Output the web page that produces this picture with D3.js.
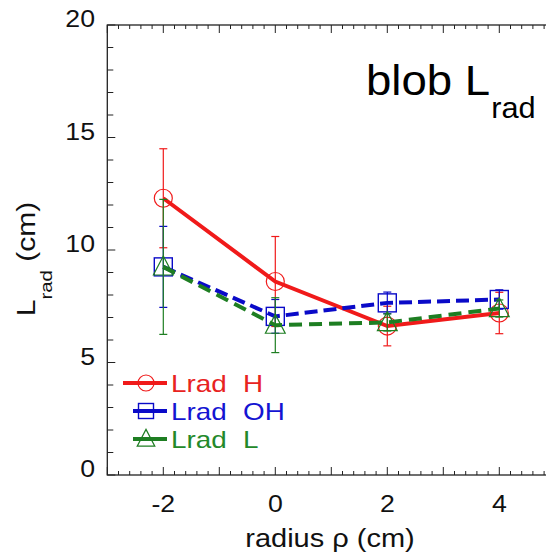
<!DOCTYPE html>
<html>
<head>
<meta charset="utf-8">
<script src="https://cdn.jsdelivr.net/npm/d3@7"></script>
<style>
  body { margin: 0; background: #fff; }
  svg text { font-family: "Liberation Sans", Arial, Helvetica, sans-serif; }
</style>
</head>
<body>
<div class="chart"></div>
<script>
// data
const radius = [-2, 0, 2, 4];
const lrad_H = [12.3, 8.6, 6.62, 7.2];
const err_H = [2.2, 2.0, 0.88, 0.92];
const lrad_OH = [9.25, 7.05, 7.65, 7.8];
const err_OH = [1.8, 0.75, 0.48, 0.43];
const lrad_L = [9.25, 6.66, 6.78, 7.4];
const err_L = [3.0, 1.22, 0.38, 0.38];
const x_ticks = [-2, 0, 2, 4];
const y_ticks = [0, 5, 10, 15, 20];

// legend names use two spaces between the words
const series = [
  {name: ['Lrad', 'H'], ys: lrad_H, err: err_H, color: '#f01a1a', text: '#e8231f', dash: null, marker: 'circle'},
  {name: ['Lrad', 'OH'], ys: lrad_OH, err: err_OH, color: '#0a0ac8', text: '#1414d2', dash: '13,6', marker: 'square'},
  {name: ['Lrad', 'L'], ys: lrad_L, err: err_L, color: '#1e7e22', text: '#23892a', dash: '13,7', marker: 'triangle'}
];

const svg_width = 546, svg_height = 556;
const x_scale = d3.scaleLinear().domain([-3, 5]).range([107.3, 555.3]);
const y_scale = d3.scaleLinear().domain([0, 20]).range([475, 25]);
// the original lettering is a little wider than Liberation Sans
const stretch = 1.16;

const svg = d3.select('.chart').append('svg')
  .attr('width', svg_width).attr('height', svg_height);

// text placed with a horizontal stretch
function wide_text(g, x, y, sx, rot) {
  return g.append('text')
    .attr('transform', `translate(${x},${y})${rot ? ' rotate(' + rot + ')' : ''} scale(${sx},1)`);
}

// frame
const [x0, x1] = x_scale.range();
const [yb, yt] = y_scale.range();
svg.append('rect')
  .attr('x', x0).attr('y', yt).attr('width', x1 - x0).attr('height', yb - yt)
  .attr('fill', 'none').attr('stroke', '#222').attr('stroke-width', 1.3);

// ticks (inside, on all sides)
const ticks_g = svg.append('g').attr('stroke', '#222').attr('stroke-width', 1);
d3.range(-3, 5.001, 0.2).forEach(v => {
  const major = Math.abs(v - Math.round(v)) < 1e-6;
  const len = major ? 8 : 4;
  const x = x_scale(v);
  ticks_g.append('line').attr('x1', x).attr('x2', x).attr('y1', yb).attr('y2', yb - len);
  ticks_g.append('line').attr('x1', x).attr('x2', x).attr('y1', yt).attr('y2', yt + len);
});
d3.range(0, 20.001, 1).forEach(v => {
  const len = v % 5 === 0 ? 8 : 6;
  const y = y_scale(v);
  ticks_g.append('line').attr('x1', x0).attr('x2', x0 + len).attr('y1', y).attr('y2', y);
  ticks_g.append('line').attr('x1', x1).attr('x2', x1 - len).attr('y1', y).attr('y2', y);
});

// tick labels
x_ticks.forEach(d => {
  wide_text(svg, x_scale(d), 512, stretch)
    .attr('text-anchor', 'middle').attr('font-size', 23).attr('fill', '#111')
    .text(d);
});
y_ticks.forEach(d => {
  wide_text(svg, 95, y_scale(d) + 2, stretch)
    .attr('text-anchor', 'end').attr('font-size', 23).attr('fill', '#111')
    .text(d);
});

// axis labels
wide_text(svg, 330, 547, stretch)
  .attr('text-anchor', 'middle').attr('font-size', 25).attr('fill', '#111')
  .text('radius ρ (cm)');

const y_label = wide_text(svg, 35, 259, 1.2, -90)
  .attr('text-anchor', 'middle').attr('font-size', 25).attr('fill', '#111');
y_label.append('tspan').text('L');
y_label.append('tspan').attr('font-size', 17).attr('dy', 17).text('rad');
y_label.append('tspan').attr('dy', -17).text('\u00a0(cm)');

// title
const title = wide_text(svg, 366, 95, 1.06)
  .attr('font-size', 43).attr('fill', '#000');
title.append('tspan').text('blob L');
title.append('tspan').attr('font-size', 29).attr('dy', 23).attr('dx', 1).text('rad');

// markers
function draw_marker(g, type, cx, cy, size, color) {
  if (type === 'circle') {
    g.append('circle').attr('cx', cx).attr('cy', cy).attr('r', size / 2)
      .attr('fill', 'none').attr('stroke', color).attr('stroke-width', 1.2);
  } else if (type === 'square') {
    g.append('rect').attr('x', cx - size / 2).attr('y', cy - size / 2)
      .attr('width', size).attr('height', size)
      .attr('fill', 'none').attr('stroke', color).attr('stroke-width', 1.4);
  } else {
    const h = size;
    g.append('path')
      .attr('d', `M${cx},${cy - h * 0.6}L${cx + size * 0.55},${cy + h * 0.45}L${cx - size * 0.55},${cy + h * 0.45}Z`)
      .attr('fill', 'none').attr('stroke', color).attr('stroke-width', 1.2);
  }
}

const line = d3.line().x(d => x_scale(d[0])).y(d => y_scale(d[1]));
const plot = svg.append('g');

series.forEach(s => {
  const pts = radius.map((r, i) => [r, s.ys[i], s.err[i]]);
  const g = plot.append('g');
  // error bars
  pts.forEach(p => {
    const x = x_scale(p[0]);
    const ya = y_scale(p[1] + p[2]), yb2 = y_scale(p[1] - p[2]);
    g.append('line').attr('x1', x).attr('x2', x).attr('y1', ya).attr('y2', yb2)
      .attr('stroke', s.color).attr('stroke-width', 1.2);
    [ya, yb2].forEach(yc => g.append('line')
      .attr('x1', x - 4).attr('x2', x + 4).attr('y1', yc).attr('y2', yc)
      .attr('stroke', s.color).attr('stroke-width', 1.2));
  });
  g.append('path').datum(pts).attr('d', line)
    .attr('fill', 'none').attr('stroke', s.color).attr('stroke-width', 4)
    .attr('stroke-dasharray', s.dash);
  pts.forEach(p => draw_marker(g, s.marker, x_scale(p[0]), y_scale(p[1]), 18, s.color));
});

// legend
const legend_rows = [383, 411, 439];
series.forEach((s, i) => {
  const g = svg.append('g');
  const y = legend_rows[i];
  const lx0 = i === 0 ? 123 : 133;
  g.append('line').attr('x1', lx0).attr('x2', 167).attr('y1', y).attr('y2', y)
    .attr('stroke', s.color).attr('stroke-width', 4);
  draw_marker(g, s.marker, 146, y, i === 1 ? 15 : 16, s.color);
  wide_text(g, 171, y + 8.5, stretch)
    .attr('font-size', 24).attr('fill', s.text).text(s.name[0]);
  wide_text(g, 243, y + 8.5, stretch)
    .attr('font-size', 24).attr('fill', s.text).text(s.name[1]);
});
</script>
</body>
</html>
